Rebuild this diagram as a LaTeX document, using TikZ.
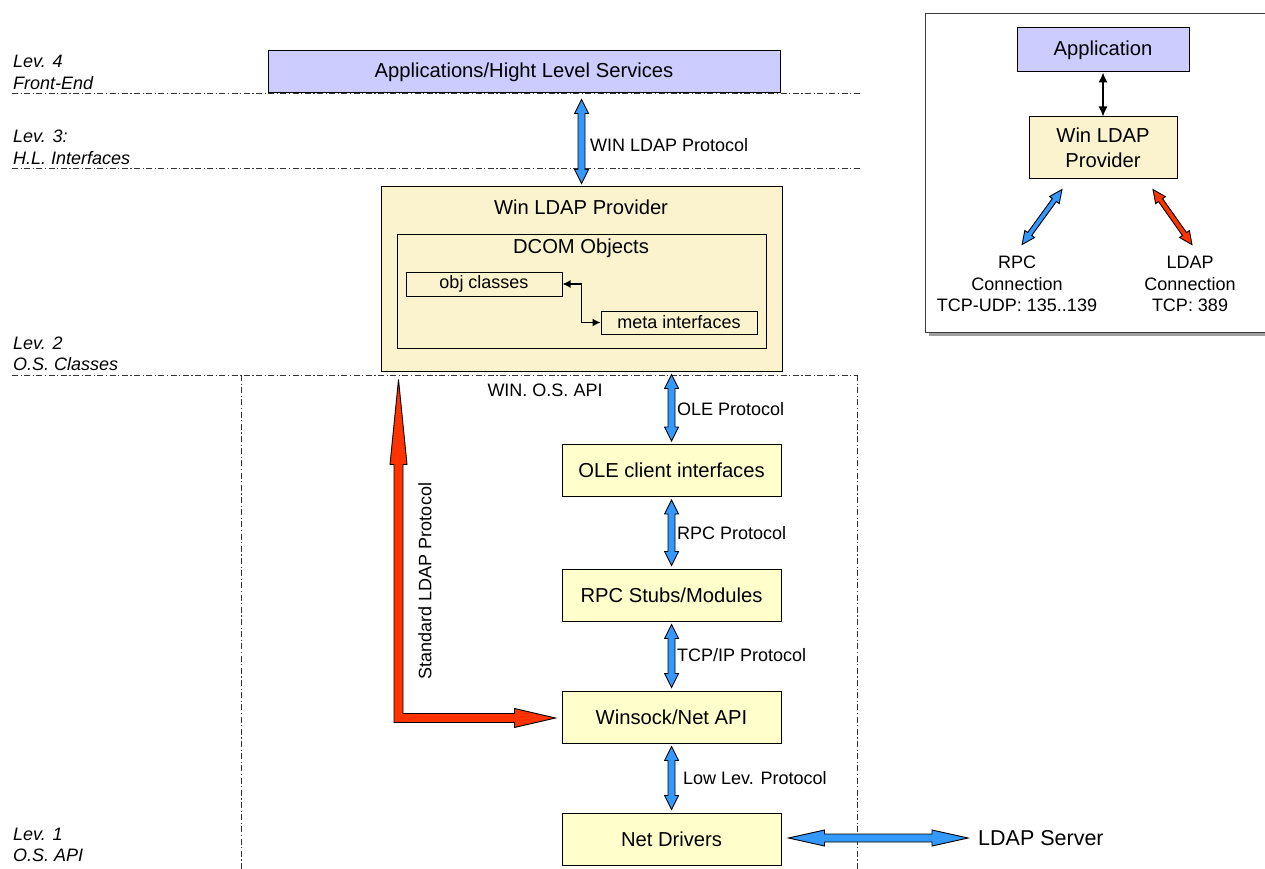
\documentclass[tikz,border=0pt]{standalone}
\usepackage{fontspec}
\setmainfont{Liberation Sans}
\usetikzlibrary{calc,arrows.meta}

\definecolor{lavender}{RGB}{204,204,255}
\definecolor{provfill}{RGB}{251,242,206}
\definecolor{apifill}{RGB}{255,255,204}
\definecolor{protoblue}{RGB}{51,153,255}
\definecolor{ldapred}{RGB}{255,51,0}
\definecolor{framegray}{RGB}{60,60,60}

% Outlined double-headed block arrow between two points.
% #1 style, #2 start, #3 end, #4 shaft half width, #5 head half width, #6 head length
\newcommand{\fatarrow}[6]{%
  \path[#1] let \p1=(#2), \p2=(#3),
      \n1={atan2(\y2-\y1,\x2-\x1)}, \n2={veclen(\x2-\x1,\y2-\y1)} in
    [shift={(\p1)}, rotate=\n1]
    (0pt,0pt) -- (#6,#5) -- (#6,#4) -- (\n2-#6,#4) -- (\n2-#6,#5) -- (\n2,0pt)
    -- (\n2-#6,-#5) -- (\n2-#6,-#4) -- (#6,-#4) -- (#6,-#5) -- cycle;}

\begin{document}
\begin{tikzpicture}[x=1pt,y=-1pt,
  every node/.style={font=\fontsize{18}{21.5}\selectfont},
  bigtext/.style={font=\fontsize{20.2}{24.5}\selectfont},
  boxed/.style={draw=black, line width=1pt, inner sep=0pt},
  appbox/.style={boxed, fill=lavender, bigtext},
  provbox/.style={boxed, fill=provfill, bigtext},
  apibox/.style={boxed, fill=apifill, bigtext, minimum width=219pt, minimum height=52pt},
  plain/.style={boxed, fill=none},
  lvl/.style={anchor=west, inner sep=0pt, align=left,
    font=\fontsize{18}{21.5}\selectfont\itshape},
  proto/.style={anchor=west, inner sep=0pt},
  levelline/.style={draw=black!80, line width=0.8pt,
    dash pattern=on 6pt off 2.5pt on 1.2pt off 2.5pt},
  bluefat/.style={draw=black, line width=0.9pt, fill=protoblue, line join=miter},
  redfat/.style={draw=black, line width=0.9pt, fill=ldapred, line join=miter},
  thinlink/.style={draw=black, line width=1.4pt,
    {Latex[length=8pt,width=8pt]}-{Latex[length=8pt,width=8pt]}}
]
\useasboundingbox (0,0) rectangle (1265,869);

% ---- level separators and labels
\draw[levelline] (12,93) -- (860,93);
\draw[levelline] (12,168) -- (860,168);
\draw[levelline] (12,375) -- (857,375);
\draw[levelline] (241,375) -- (241,869);
\draw[levelline] (857,375) -- (857,869);

\node[lvl] (lev4) at (13,72.5) {Lev. 4\\Front-End};
\node[lvl] (lev3) at (13,147.5) {Lev. 3:\\H.L. Interfaces};
\node[lvl] (lev2) at (13,354) {Lev. 2\\O.S. Classes};
\node[lvl] (lev1) at (13,845) {Lev. 1\\O.S. API};

% ---- front end
\node[appbox, minimum width=512pt, minimum height=42pt] (apps) at (524,72)
  {Applications/Hight Level Services};

% ---- provider with its DCOM objects
\node[provbox, minimum width=401pt, minimum height=184pt] (prov) at (581.5,279) {};
\node[bigtext] (provtitle) at (581,207) {Win LDAP Provider};
\node[plain, minimum width=369pt, minimum height=114pt] (dcom) at (581.5,291) {};
\node[bigtext] (dcomtitle) at (581,248) {DCOM Objects};
\node[plain, minimum width=156pt, minimum height=24pt] (obj) at (484,284) {obj classes};
\node[plain, minimum width=156pt, minimum height=23pt] (meta) at (679,322.5) {meta interfaces};
\draw[thinlink] (obj.east) -- ++(19,0) |- (meta.west);

% ---- operating system API stack
\node (osapi) at (545,390) {WIN. O.S. API};
\node[apibox] (ole) at (671.5,470.5) {OLE client interfaces};
\node[apibox] (rpc) at (671.5,595) {RPC Stubs/Modules};
\node[apibox] (wsock) at (671.5,717) {Winsock/Net API};
\node[apibox] (net) at (671.5,839) {Net Drivers};
\node[anchor=west, inner sep=0pt, font=\fontsize{21.5}{24}\selectfont] (ldapsrv) at (978,838)
  {LDAP Server};

% ---- protocol arrows
\fatarrow{bluefat}{$(prov.north |- apps.south)+(0,6)$}{$(prov.north)+(0,-3)$}{3.5pt}{7pt}{14pt}
\fatarrow{bluefat}{$(ole.north |- prov.south)+(0,3)$}{$(ole.north)+(0,-3)$}{3.5pt}{7pt}{14pt}
\fatarrow{bluefat}{$(ole.south)+(0,3)$}{$(rpc.north)+(0,-3)$}{3.5pt}{7pt}{14pt}
\fatarrow{bluefat}{$(rpc.south)+(0,3)$}{$(wsock.north)+(0,-3)$}{3.5pt}{7pt}{14pt}
\fatarrow{bluefat}{$(wsock.south)+(0,3)$}{$(net.north)+(0,-3)$}{3.5pt}{7pt}{14pt}
\fatarrow{bluefat}{$(net.east)+(7,-1)$}{$(ldapsrv.west)+(-10,0)$}{4pt}{8pt}{36pt}

\node[proto] (winldap) at (590,145) {WIN LDAP Protocol};
\node[proto] (oleproto) at (677,409) {OLE Protocol};
\node[proto] (rpcproto) at (677,533) {RPC Protocol};
\node[proto] (tcpproto) at (677,655) {TCP/IP Protocol};
\node[proto] (lowproto) at (683,778) {Low Lev. Protocol};

% ---- standard LDAP path from the provider down to the socket layer
\coordinate (stdtop) at ($(prov.south)+(-183,8)$);
\coordinate (stdend) at ($(wsock.west)+(-6,1)$);
\path[redfat] let \p1=(stdtop), \p2=(stdend) in
  (\x1,\y1) -- (\x1+8.5pt,\y1-85pt) -- (\x1+4.5pt,\y1-85pt) -- (\x1+4.5pt,\y2+4.5pt)
  -- (\x2-41pt,\y2+4.5pt) -- (\x2-41pt,\y2+9.5pt) -- (\x2,\y2)
  -- (\x2-41pt,\y2-9.5pt) -- (\x2-41pt,\y2-4.5pt) -- (\x1-4.5pt,\y2-4.5pt)
  -- (\x1-4.5pt,\y1-85pt) -- (\x1-8.5pt,\y1-85pt) -- cycle;
\node[rotate=90] (stdlabel) at (425,581) {Standard LDAP Protocol};

% ---- legend
\fill[gray!75] (929,18) rectangle (1275,336);
\draw[draw=framegray, fill=white, line width=1pt] (925,14) rectangle (1271,332);
\node[appbox, minimum width=172pt, minimum height=44pt] (lapp) at (1103,50) {Application};
\node[provbox, minimum width=148pt, minimum height=62pt, align=center] (lprov) at (1103,148)
  {Win LDAP\\Provider};
\draw[draw=black, line width=1.3pt,
  {Latex[length=10pt,width=9pt]}-{Latex[length=10pt,width=9pt]}] (lapp.south) -- (lprov.north);
\node[align=center] (rpcconn) at (1017,284) {RPC\\Connection\\TCP-UDP: 135..139};
\node[align=center] (ldapconn) at (1190,284) {LDAP\\Connection\\TCP: 389};
\fatarrow{bluefat}{$(lprov.south)+(-41,10)$}{$(rpcconn.north)+(5,-8)$}{2.5pt}{6pt}{13pt}
\fatarrow{redfat}{$(lprov.south)+(50,10)$}{$(ldapconn.north)+(2,-8)$}{2.5pt}{6pt}{13pt}
\end{tikzpicture}
\end{document}
